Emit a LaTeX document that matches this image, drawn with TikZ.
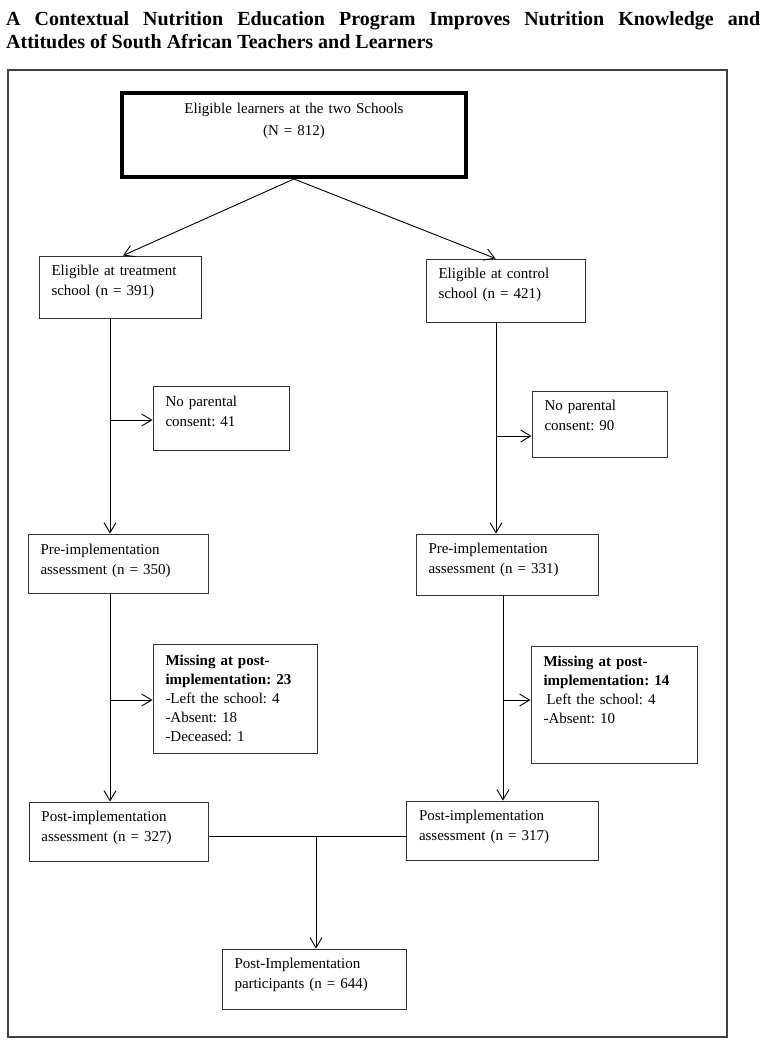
\documentclass[tikz,border=0pt]{standalone}
\usepackage{fontspec}
\setmainfont{Liberation Serif}
\usetikzlibrary{arrows.meta}
\newcommand{\lift}[1]{\rule[-#1pt]{0pt}{#1pt}}
\frenchspacing

\begin{document}
\begin{tikzpicture}[x=1pt,y=-1pt,
  box/.style={draw=black!80, line width=1pt, align=left, inner xsep=12.5pt, inner ysep=0pt,
    font=\fontsize{15}{20}\selectfont},
  arr/.style={line width=0.9pt, -{Straight Barb[length=10pt,width=12pt]}},
  ln/.style={line width=0.9pt},
  ttl/.style={anchor=base west, inner sep=0pt, font=\fontsize{20}{24}\selectfont\bfseries}]
\useasboundingbox (0,0) rectangle (765,1042);
\node[ttl] (t1) at (6,25)
  {\makebox[754pt][s]{A Contextual Nutrition Education Program Improves Nutrition Knowledge and}};
\node[ttl] (t2) at (6,48) {Attitudes of South African Teachers and Learners};
\draw[line width=1.5pt, black!75] (8,70) rectangle (727,1037);

\node[box, draw=black, line width=4pt, align=center, text width=319pt, minimum width=344pt,
  minimum height=84pt, font=\fontsize{15}{22}\selectfont] (all) at (294,135)
  {Eligible learners at the two Schools\\(N = 812)\lift{32}};

\node[box, text width=137pt, minimum width=162pt, minimum height=62pt] (trt) at (120,287)
  {Eligible at treatment\\school (n = 391)\lift{13}};
\node[box, text width=134pt, minimum width=159pt, minimum height=63pt] (ctl) at (505.5,290.5)
  {Eligible at control\\school (n = 421)\lift{14}};
\node[box, text width=111pt, minimum width=136pt, minimum height=64pt] (np41) at (221,418)
  {No parental\\consent: 41\lift{14}};
\node[box, text width=110pt, minimum width=135pt, minimum height=66pt] (np90) at (599.5,424)
  {No parental\\consent: 90\lift{17}};
\node[box, text width=155pt, minimum width=180pt, minimum height=59pt] (preL) at (118,563.5)
  {Pre-implementation\\assessment (n = 350)\lift{9}};
\node[box, text width=157pt, minimum width=182pt, minimum height=61pt] (preR) at (507,564.5)
  {Pre-implementation\\assessment (n = 331)\lift{12}};
\node[box, text width=139pt, minimum width=164pt, minimum height=109pt,
  font=\fontsize{15}{19}\selectfont] (m23) at (235,698.5)
  {\textbf{Missing at post-}\\\textbf{implementation: 23}\\-Left the school: 4\\-Absent: 18\\-Deceased: 1};
\node[box, text width=141pt, minimum width=166pt, minimum height=117pt,
  font=\fontsize{15}{19}\selectfont] (m14) at (614,704.5)
  {\textbf{Missing at post-}\\\textbf{implementation: 14}\\\hspace*{3pt}Left the school: 4\\-Absent: 10\lift{30}};
\node[box, text width=154pt, minimum width=179pt, minimum height=59pt] (postL) at (118.5,831.5)
  {Post-implementation\\assessment (n = 327)\lift{10}};
\node[box, text width=166.5pt, minimum width=191.5pt, minimum height=59pt] (postR) at (502.25,830.5)
  {Post-implementation\\assessment (n = 317)\lift{11}};
\node[box, text width=159.5pt, minimum width=184.5pt, minimum height=60pt] (bot) at (314.25,979)
  {Post-Implementation\\participants (n = 644)\lift{12}};

\coordinate (lx) at (110,0);
\coordinate (rx) at (496,0);
\coordinate (rx2) at (503,0);
\coordinate (a41) at ([shift={(0,2)}]np41.west);
\coordinate (a90) at ([shift={(0,12)}]np90.west);
\coordinate (a23) at ([shift={(0,1.5)}]m23.west);
\coordinate (a14) at ([shift={(0,-4.5)}]m14.west);
\coordinate (hy) at (316,836);

\draw[arr] (all.south) -- ([shift={(3,0)}]trt.north);
\draw[arr] (all.south) -- ([shift={(-10,0)}]ctl.north);
\draw[arr] (trt.south -| lx) -- (preL.north -| lx);
\draw[arr] (a41 -| lx) -- (a41);
\draw[arr] (ctl.south -| rx) -- (preR.north -| rx);
\draw[arr] (a90 -| rx) -- (a90);
\draw[arr] (preL.south -| lx) -- (postL.north -| lx);
\draw[arr] (a23 -| lx) -- (a23);
\draw[arr] (preR.south -| rx2) -- (postR.north -| rx2);
\draw[arr] (a14 -| rx2) -- (a14);
\draw[ln] (postL.east |- hy) -- (postR.west |- hy);
\draw[arr] (hy) -- (bot.north -| hy);
\end{tikzpicture}
\end{document}
